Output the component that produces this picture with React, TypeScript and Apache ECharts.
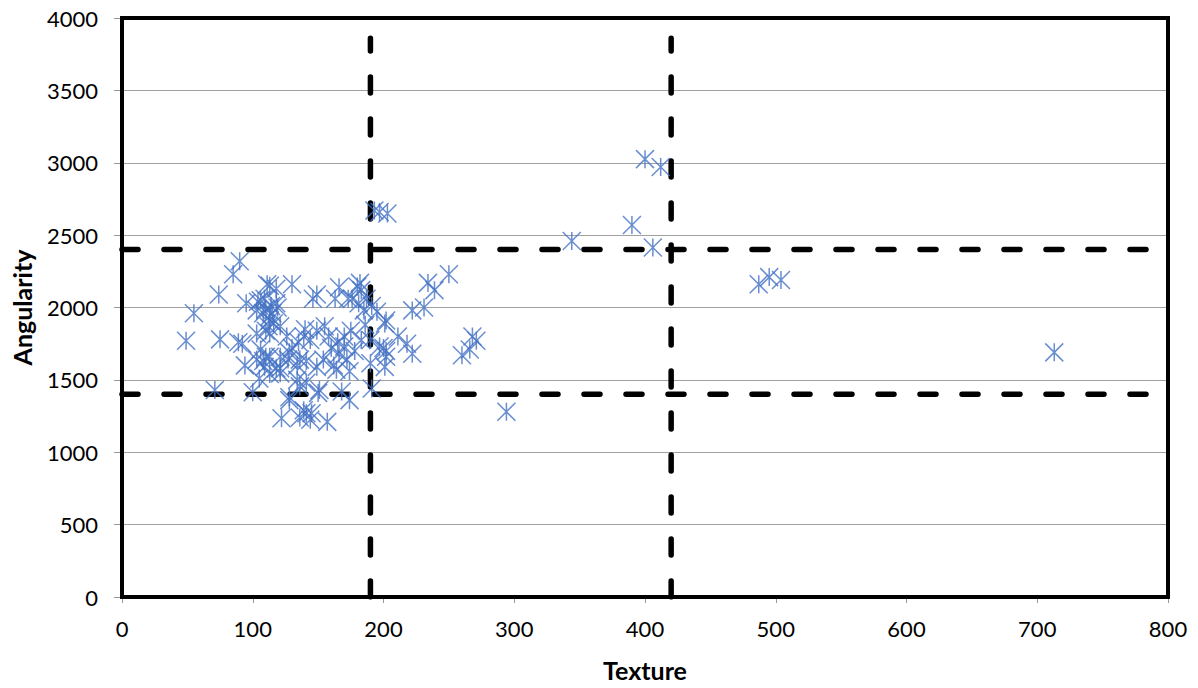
import React, { useEffect, useRef } from "react";
import * as echarts from "echarts";

const points: number[][] = [
  [49, 1770], [55, 1960], [71, 1430], [74, 2090], [75, 1780], [85, 2230], [90, 2320], [89, 1760],
  [92, 1750], [95, 2030], [94, 1600], [100, 1415],
  [103, 1980], [104, 2040], [106, 2050], [108, 1960], [109, 2060], [110, 1990], [111, 2160], [113, 2150],
  [113, 1940], [113, 1910], [114, 2010], [116, 1890], [118, 2030], [118, 2130], [110, 1840], [112, 1870],
  [113, 1820], [103, 1820], [106, 1710], [110, 1660], [109, 1590], [103, 1640], [105, 1510], [108, 1630],
  [113, 1540], [113, 1660], [118, 1580], [121, 1870], [126, 1800], [121, 1660], [121, 1545], [122, 1235],
  [121, 1580], [115, 1960], [119, 2000],
  [128, 1690], [130, 2160], [127, 1640], [128, 1380], [128, 1360], [134, 1500], [134, 1600], [136, 1640],
  [136, 1240], [136, 1455], [139, 1800], [141, 1270], [141, 1480], [141, 1630], [144, 1775], [144, 1225],
  [146, 2060], [149, 1840], [149, 2090], [149, 1590], [151, 1430], [154, 1640], [157, 1210], [150, 1410],
  [145, 1270], [139, 1290], [140, 1850], [135, 1760], [130, 1720], [155, 1870], [158, 1800], [160, 1720],
  [162, 1600], [163, 2060], [164, 1570], [166, 2140], [166, 1680], [168, 1420], [172, 1640], [173, 2060],
  [174, 1360], [174, 1560], [176, 2060], [180, 2145], [181, 2030], [182, 2170], [183, 2120], [183, 1775],
  [187, 2060], [190, 1775], [190, 1615], [191, 2010], [191, 1440], [165, 1760], [170, 1730], [178, 1700],
  [185, 1980], [170, 1800], [175, 1840], [186, 1880],
  [193, 2670], [197, 2660], [203, 2650], [195, 1970], [201, 1890], [197, 1730], [202, 1700], [200, 1720],
  [202, 1660], [201, 1590], [202, 1910], [211, 1800], [218, 1750], [222, 1680], [222, 1980], [231, 2000],
  [234, 2170], [239, 2120], [250, 2230],
  [260, 1670], [266, 1710], [268, 1800], [271, 1770], [294, 1280], [344, 2460], [390, 2570], [400, 3025],
  [412, 2970], [406, 2415], [487, 2160], [495, 2210], [504, 2190], [713, 1690],
];

const textureCuts = [190, 420];
const angularityCuts = [1400, 2400];
const xTicks = { min: 0, max: 800, interval: 100 };
const yTicks = { min: 0, max: 4000, interval: 500 };

const starPath = "path://M0,0L10,10M10,0L0,10M5,0L5,10";

export default function App() {
  const ref = useRef<HTMLDivElement>(null);
  useEffect(() => {
    const chart = echarts.init(ref.current!, null, { renderer: "svg" });
    const font = "Lato, 'Open Sans', sans-serif";
    const dashStyle = { color: "#000", width: 5.5, type: [16, 26] as any, cap: "round" as any };
    const vLines = textureCuts.map((x) => ({
      type: "line",
      data: [[x, 0], [x, 3860]],
      symbol: "none",
      lineStyle: dashStyle,
      silent: true,
      z: 3,
    }));
    const hLines = angularityCuts.map((y) => ({
      type: "line",
      data: [[0, y], [800, y]],
      symbol: "none",
      lineStyle: dashStyle,
      silent: true,
      z: 3,
    }));
    chart.setOption({
      animation: false,
      backgroundColor: "#fff",
      grid: {
        left: 122,
        right: 30,
        top: 18,
        bottom: 91,
        show: true,
        borderColor: "#000",
        borderWidth: 4,
        backgroundColor: "transparent",
        z: 4,
      },
      xAxis: {
        type: "value",
        min: xTicks.min,
        max: xTicks.max,
        interval: xTicks.interval,
        name: "Texture",
        nameLocation: "middle",
        nameGap: 60,
        nameTextStyle: { fontFamily: font, fontSize: 25, fontWeight: "bold", color: "#000" },
        axisLine: { show: false },
        axisTick: { show: true, length: 6, lineStyle: { color: "#999" } },
        axisLabel: { fontFamily: font, fontSize: 22, color: "#000", margin: 20 },
        splitLine: { show: false },
      },
      yAxis: {
        type: "value",
        min: yTicks.min,
        max: yTicks.max,
        interval: yTicks.interval,
        name: "Angularity",
        nameLocation: "middle",
        nameGap: 88,
        nameRotate: 90,
        nameTextStyle: { fontFamily: font, fontSize: 25, fontWeight: "bold", color: "#000" },
        axisLine: { show: false },
        axisTick: { show: true, inside: false, length: 8, lineStyle: { color: "#999" } },
        axisLabel: {
          fontFamily: font,
          fontSize: 22,
          color: "#000",
          margin: 24,
          formatter: (v: number) => String(v),
        },
        splitLine: { show: true, lineStyle: { color: "#a0a0a0", width: 1 } },
      },
      series: [
        ...vLines,
        ...hLines,
        {
          type: "scatter",
          data: points,
          symbol: starPath,
          symbolSize: 18,
          itemStyle: { color: "transparent", borderColor: "#4472c4", borderWidth: 1.5 },
          z: 5,
        },
      ],
    });
    return () => chart.dispose();
  }, []);
  return (
    <div
      ref={ref}
      style={{ position: "absolute", left: 0, top: 0, width: 1198, height: 688 }}
    />
  );
}
